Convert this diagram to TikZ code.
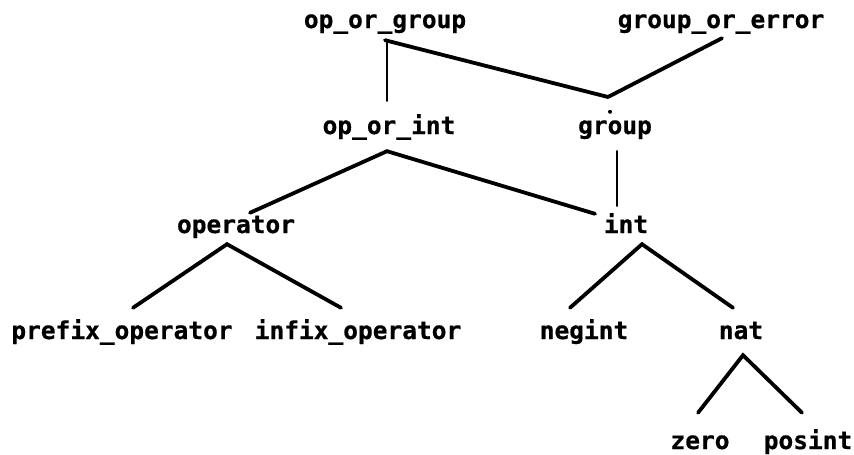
\documentclass[tikz,border=0pt]{standalone}
\usepackage{fontspec}
\setmonofont[BoldFeatures={FakeBold=0.6}]{DejaVu Sans Mono}
\begin{document}
\begin{tikzpicture}[x=1pt,y=-1pt,
  lbl/.style={font=\ttfamily\bfseries\fontsize{24.5}{24.5}\selectfont,
    inner sep=0pt, text height=14pt, text depth=6pt, anchor=base},
  edge/.style={line width=3.8pt, line cap=round},
  thin edge/.style={line width=2.6pt, line cap=round}]
\useasboundingbox (0,0) rectangle (854,455);

% labels
\node[lbl] (opg) at (385,28)  {op\_or\_group};
\node[lbl] (goe) at (721,28)  {group\_or\_error};
\node[lbl] (opi) at (389,134) {op\_or\_int};
\node[lbl] (grp) at (615,134) {group};
\node[lbl] (opr) at (236,233) {operator};
\node[lbl] (int) at (626,233) {int};
\node[lbl] (pre) at (122,339) {prefix\_operator};
\node[lbl] (inf) at (358,339) {infix\_operator};
\node[lbl] (neg) at (584,339) {negint};
\node[lbl] (nat) at (741,339) {nat};
\node[lbl] (zer) at (700,449) {zero};
\node[lbl] (pos) at (808,449) {posint};

% junction where both top-level choices meet
\coordinate (j) at (608,97);

% top level
\draw[edge] ([yshift=-6pt]opg.south) -- (j);
\draw[edge] ([xshift=1pt,yshift=-4pt]goe.south) -- (j);
\fill ([xshift=-5pt,yshift=8pt]grp.north) circle (2pt);
\draw[thin edge] ([xshift=2pt,yshift=-8pt]opg.south) -- ([xshift=-2pt,yshift=19pt]opi.north);
\draw[thin edge] ([xshift=2pt,yshift=-11pt]grp.south) -- ([xshift=-9pt,yshift=13pt]int.north);

% op_or_int
\coordinate (opiA) at ([xshift=-2pt,yshift=-11pt]opi.south);
\draw[edge] ([xshift=14pt,yshift=6pt]opr.north) -- (opiA) -- ([xshift=-31pt,yshift=5pt]int.north);

% operator
\coordinate (oprA) at ([xshift=-9pt,yshift=-5pt]opr.south);
\draw[edge] ([xshift=11pt,yshift=17pt]pre.north) -- (oprA) -- ([xshift=-17pt,yshift=17pt]inf.north);

% int
\coordinate (intA) at ([xshift=16pt,yshift=-5pt]int.south);
\draw[edge] ([xshift=-14pt,yshift=17pt]neg.north) -- (intA) -- ([xshift=-8pt,yshift=17pt]nat.north);

% nat
\coordinate (natA) at ([xshift=2pt,yshift=-10pt]nat.south);
\draw[edge] ([xshift=-2pt,yshift=22pt]zer.north) -- (natA) -- ([xshift=-6pt,yshift=22pt]pos.north);
\end{tikzpicture}
\end{document}
